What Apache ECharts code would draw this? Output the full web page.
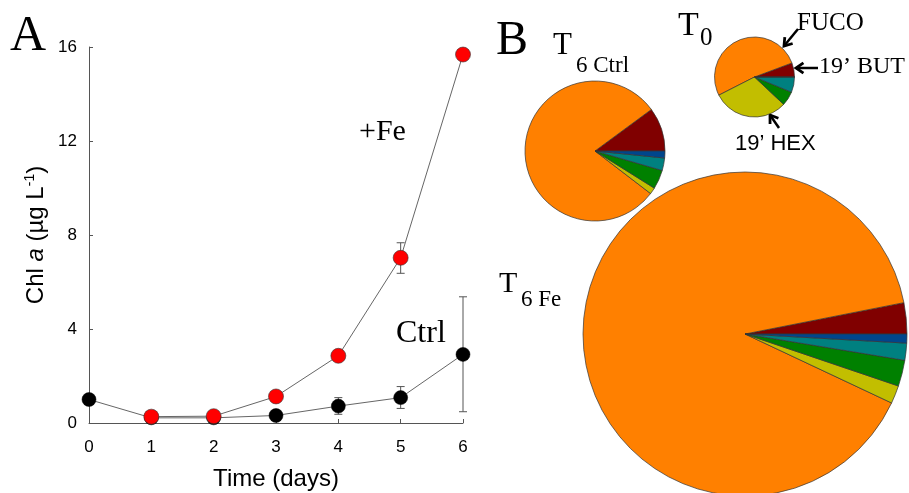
<!DOCTYPE html>
<html>
<head>
<meta charset="utf-8">
<script src="https://cdn.jsdelivr.net/npm/echarts@6/dist/echarts.min.js"></script>
<style>html,body{margin:0;padding:0;background:#fff;}#c{width:909px;height:493px;}</style>
</head>
<body>
<div id="c"></div>
<script>
// ---- Panel A data ----
const days = [0, 1, 2, 3, 4, 5, 6];
const ctrlChl = [1.0, 0.22, 0.22, 0.32, 0.72, 1.08, 2.92];
const feChl = [null, 0.27, 0.29, 1.13, 2.86, 7.03, 15.68];
const ctrlErrDays = [4, 5, 6];
const ctrlErrLow = [0.37, 0.62, 0.48];
const ctrlErrHigh = [1.08, 1.55, 5.37];
const feErrDays = [5];
const feErrLow = [6.37];
const feErrHigh = [7.67];
const xTicks = [0, 1, 2, 3, 4, 5, 6];
const yTicks = [0, 4, 8, 12, 16];

// ---- Panel B data (pigment composition, %) ----
const pigments = ["19' BUT", 'FUCO', "19' HEX", 'Pigment 4', 'Pigment 5', 'Pigment 6'];
const pieT0 = [5.7, 51.8, 30.5, 5.8, 6.2, 0];
const pieT6Ctrl = [10.1, 79.5, 1.5, 4.4, 2.9, 1.6];
const pieT6Fe = [3.1, 89.9, 1.8, 2.6, 1.7, 0.9];
const pigmentColors = ['#800000', '#FF8000', '#C2BE00', '#008000', '#008080', '#00468C'];

const chart = echarts.init(document.getElementById('c'), null, {renderer: 'canvas'});

function pairs(xs, ys) { return xs.map((x, i) => [x, ys[i]]); }
function errData(xs, lo, hi) { return xs.map((x, i) => [x, lo[i], hi[i]]); }
function pieData(vals) { return vals.map((v, i) => ({name: pigments[i], value: v, itemStyle: {color: pigmentColors[i]}})); }

function errRender(params, api) {
  const x = api.value(0), lo = api.value(1), hi = api.value(2);
  const p1 = api.coord([x, lo]), p2 = api.coord([x, hi]);
  const w = 4;
  const st = {stroke: '#555', lineWidth: 1};
  return {type: 'group', children: [
    {type: 'line', shape: {x1: p1[0], y1: p1[1], x2: p2[0], y2: p2[1]}, style: st},
    {type: 'line', shape: {x1: p1[0] - w, y1: p1[1], x2: p1[0] + w, y2: p1[1]}, style: st},
    {type: 'line', shape: {x1: p2[0] - w, y1: p2[1], x2: p2[0] + w, y2: p2[1]}, style: st}
  ]};
}

const serif = 'Liberation Serif, Times New Roman, serif';
const sans = 'Liberation Sans, Arial, sans-serif';

function pieSeries(name, vals, cx, cy, r) {
  return {
    type: 'pie', name: name, center: [cx, cy], radius: r,
    startAngle: 0, clockwise: false, minAngle: 0,
    label: {show: false}, labelLine: {show: false},
    emphasis: {disabled: true}, silent: true,
    itemStyle: {borderColor: '#333', borderWidth: 0.7},
    data: pieData(vals)
  };
}

function arrow(x1, y1, x2, y2) {
  const ang = Math.atan2(y2 - y1, x2 - x1);
  const L = 9, a = 0.6;
  const p1 = [x2 - L * Math.cos(ang - a), y2 - L * Math.sin(ang - a)];
  const p2 = [x2 - L * Math.cos(ang + a), y2 - L * Math.sin(ang + a)];
  return [
    {type: 'line', shape: {x1: x1, y1: y1, x2: x2, y2: y2}, style: {stroke: '#000', lineWidth: 2.5}},
    {type: 'polyline', shape: {points: [p1, [x2, y2], p2]}, style: {stroke: '#000', lineWidth: 2.8, fill: null}}
  ];
}

function txt(s, x, y, size, family, align) {
  return {type: 'text', x: x, y: y, style: {text: s, font: size + 'px ' + family, fill: '#000', align: align || 'left', verticalAlign: 'middle'}};
}

const option = {
  animation: false,
  backgroundColor: '#fff',
  grid: {left: 89, right: 446, top: 47, bottom: 70, containLabel: false, outerBoundsMode: 'none'},
  xAxis: {
    type: 'value', min: 0, max: 6, interval: 1,
    name: 'Time (days)', nameLocation: 'middle', nameGap: 44,
    nameTextStyle: {fontSize: 24, fontFamily: sans, color: '#000'},
    axisLine: {show: true, lineStyle: {color: '#555', width: 1}},
    axisTick: {show: true, inside: true, length: 4, lineStyle: {color: '#555'}},
    axisLabel: {fontSize: 17, fontFamily: sans, color: '#000', margin: 16,
      formatter: v => xTicks.includes(v) ? String(v) : ''},
    splitLine: {show: false}
  },
  yAxis: {
    type: 'value', min: 0, max: 16, interval: 4,
    name: 'Chl {i|a} (µg L{s|-1})', nameLocation: 'middle', nameGap: 40, nameRotate: 90,
    nameTextStyle: {fontSize: 24, fontFamily: sans, color: '#000',
      rich: {i: {fontSize: 24, fontFamily: sans, fontStyle: 'italic', color: '#000'},
             s: {fontSize: 14, fontFamily: sans, color: '#000', verticalAlign: 'top', padding: [0, 0, 12, 0]}}},
    axisLine: {show: true, lineStyle: {color: '#555', width: 1}},
    axisTick: {show: true, inside: true, length: 4, lineStyle: {color: '#555'}},
    axisLabel: {fontSize: 17, fontFamily: sans, color: '#000', margin: 12,
      formatter: v => yTicks.includes(v) ? String(v) : ''},
    splitLine: {show: false}
  },
  series: [
    {type: 'custom', name: 'ctrlErr', renderItem: errRender, data: errData(ctrlErrDays, ctrlErrLow, ctrlErrHigh), z: 1, silent: true},
    {type: 'custom', name: 'feErr', renderItem: errRender, data: errData(feErrDays, feErrLow, feErrHigh), z: 1, silent: true},
    {type: 'line', name: 'Ctrl', data: pairs(days, ctrlChl), symbol: 'circle', symbolSize: 14,
      lineStyle: {color: '#666', width: 1}, itemStyle: {color: '#000', borderColor: '#000', borderWidth: 0.5}, z: 2, silent: true},
    {type: 'line', name: '+Fe', data: pairs(days, feChl), symbol: 'circle', symbolSize: 15, connectNulls: false,
      lineStyle: {color: '#666', width: 1}, itemStyle: {color: '#FF0000', borderColor: '#333', borderWidth: 0.6}, z: 3, silent: true},
    pieSeries('T6 Ctrl', pieT6Ctrl, 595, 151, 70),
    pieSeries('T0', pieT0, 754.5, 77, 40),
    pieSeries('T6 Fe', pieT6Fe, 745, 334, 162)
  ],
  graphic: [
    txt('A', 10, 37, 50, serif),
    txt('B', 496, 41, 48, serif),
    txt('+Fe', 359, 132, 30, serif),
    txt('Ctrl', 396, 334, 32, serif),
    txt('T', 553, 46, 31, serif),
    txt('6 Ctrl', 576, 66, 23, serif),
    txt('T', 678, 26, 34, serif),
    txt('0', 700, 38, 25, serif),
    txt('T', 499, 284, 30, serif),
    txt('6 Fe', 521, 300, 23, serif),
    txt('FUCO', 797, 23, 25, serif),
    txt('19’ BUT', 819, 67, 24, serif),
    txt('19’ HEX', 735, 144, 22, sans),
    ...arrow(798, 29, 784, 46),
    ...arrow(818, 68, 796, 68),
    ...arrow(779, 128, 770, 115)
  ]
};
chart.setOption(option);
</script>
</body>
</html>
